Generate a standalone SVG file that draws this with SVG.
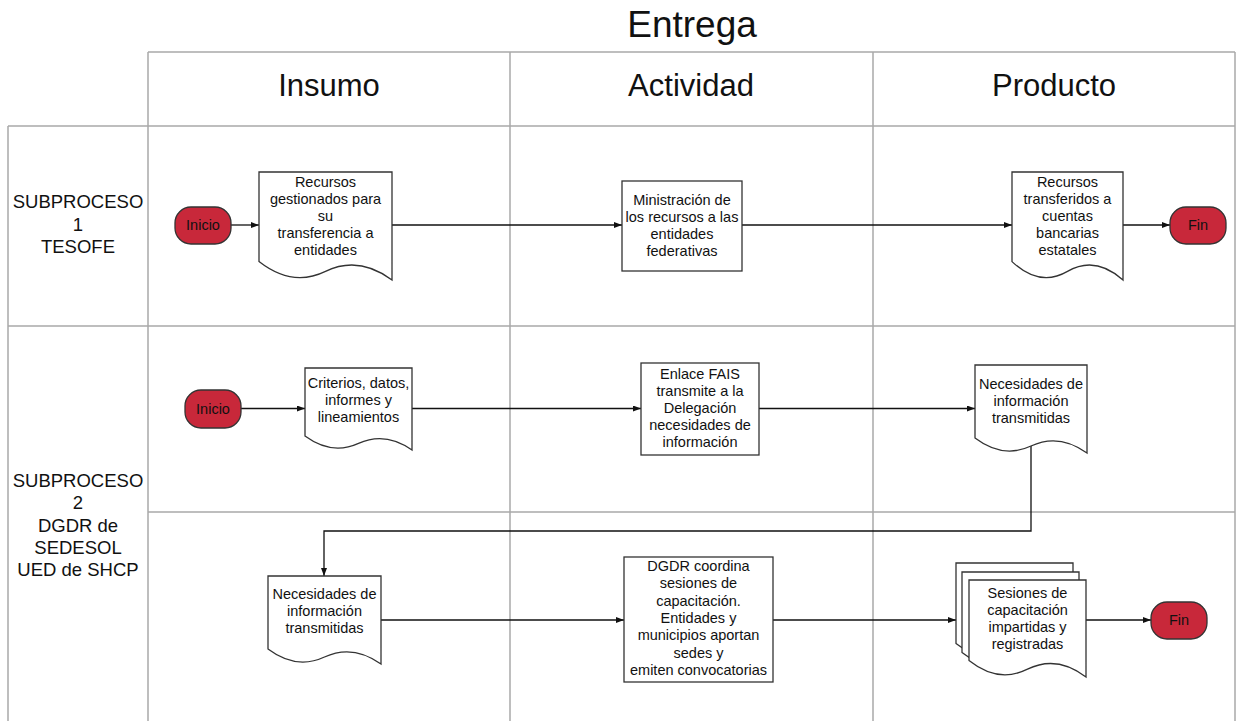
<svg xmlns="http://www.w3.org/2000/svg" width="1236" height="721" viewBox="0 0 1236 721">
<style>
.grid{stroke:#a8a8a8;stroke-width:1.5;fill:none}
.t{font-family:"Liberation Sans",Arial,sans-serif;fill:#111;text-anchor:middle}
.title{font-size:37px}
.hdr{font-size:31px}
.lane{font-size:18.5px}
.n{font-size:14.5px}
.box{fill:#fff;stroke:#333;stroke-width:1.3}
.term{fill:#c8283a;stroke:#333;stroke-width:1.3}
.c{fill:none;stroke:#111;stroke-width:1.3;marker-end:url(#ah)}
</style>
<defs>
<marker id="ah" markerUnits="userSpaceOnUse" markerWidth="9" markerHeight="7" refX="8" refY="3" orient="auto">
<path d="M0,0 L8,3 L0,6 z" fill="#111"/>
</marker>
</defs>
<rect width="1236" height="721" fill="#fff"/>
<g id="grid">
<line class="grid" x1="148" y1="52" x2="1235" y2="52"/>
<line class="grid" x1="8" y1="126" x2="1235" y2="126"/>
<line class="grid" x1="8" y1="326" x2="1235" y2="326"/>
<line class="grid" x1="148" y1="512" x2="1235" y2="512"/>
<line class="grid" x1="8" y1="126" x2="8" y2="721"/>
<line class="grid" x1="148" y1="52" x2="148" y2="721"/>
<line class="grid" x1="510" y1="52" x2="510" y2="721"/>
<line class="grid" x1="873" y1="52" x2="873" y2="721"/>
<line class="grid" x1="1235" y1="52" x2="1235" y2="721"/>
</g>
<g id="headers">
<text class="t title" x="692" y="37">Entrega</text>
<text class="t hdr" x="329" y="96">Insumo</text>
<text class="t hdr" x="691" y="96">Actividad</text>
<text class="t hdr" x="1054" y="96">Producto</text>
<text class="t lane" x="78" y="208">SUBPROCESO</text>
<text class="t lane" x="78" y="230.5">1</text>
<text class="t lane" x="78" y="253">TESOFE</text>
<text class="t lane" x="78" y="487">SUBPROCESO</text>
<text class="t lane" x="78" y="509">2</text>
<text class="t lane" x="78" y="531.5">DGDR de</text>
<text class="t lane" x="78" y="554">SEDESOL</text>
<text class="t lane" x="78" y="576">UED de SHCP</text>
</g>
<g id="connectors">
<line class="c" x1="231" y1="225" x2="259" y2="225"/>
<line class="c" x1="392" y1="225" x2="622" y2="225"/>
<line class="c" x1="742" y1="225" x2="1012" y2="225"/>
<line class="c" x1="1123" y1="225" x2="1170" y2="225"/>
<line class="c" x1="241" y1="408.5" x2="305" y2="408.5"/>
<line class="c" x1="412" y1="408.5" x2="641" y2="408.5"/>
<line class="c" x1="759" y1="408.5" x2="975" y2="408.5"/>
<polyline class="c" points="1031,446 1031,531 324,531 324,576"/>
<line class="c" x1="381" y1="620" x2="624" y2="620"/>
<line class="c" x1="773" y1="620" x2="956" y2="620"/>
<line class="c" x1="1086" y1="620" x2="1151" y2="620"/>
</g>
<g id="inicio1">
<rect class="term" x="175" y="207" width="56" height="37" rx="16" ry="16"/>
<text class="t n" x="203" y="230">Inicio</text>
</g>
<g id="doc-recursos-gestionados">
<path class="box" d="M259,172 H392 V280 Q358.75,255.2 325.5,271.4 Q292.25,287.6 259,261.6 Z"/>
<text class="t n" x="325.5" y="187">Recursos</text>
<text class="t n" x="325.5" y="204">gestionados para</text>
<text class="t n" x="325.5" y="221">su</text>
<text class="t n" x="325.5" y="238">transferencia a</text>
<text class="t n" x="325.5" y="255">entidades</text>
</g>
<g id="act-ministracion">
<rect class="box" x="622" y="181" width="120" height="90"/>
<text class="t n" x="682" y="205">Ministración de</text>
<text class="t n" x="682" y="222">los recursos a las</text>
<text class="t n" x="682" y="239">entidades</text>
<text class="t n" x="682" y="256">federativas</text>
</g>
<g id="doc-recursos-transferidos">
<path class="box" d="M1012,172 H1123 V280 Q1095.25,255.2 1067.5,271.4 Q1039.75,287.6 1012,261.6 Z"/>
<text class="t n" x="1067.5" y="187">Recursos</text>
<text class="t n" x="1067.5" y="204">transferidos a</text>
<text class="t n" x="1067.5" y="221">cuentas</text>
<text class="t n" x="1067.5" y="238">bancarias</text>
<text class="t n" x="1067.5" y="255">estatales</text>
</g>
<g id="fin1">
<rect class="term" x="1170" y="207" width="56" height="37" rx="16" ry="16"/>
<text class="t n" x="1198" y="230">Fin</text>
</g>
<g id="inicio2">
<rect class="term" x="185" y="390" width="56" height="38" rx="16" ry="16"/>
<text class="t n" x="213" y="414">Inicio</text>
</g>
<g id="doc-criterios">
<path class="box" d="M305,368 H412 V450 Q385.25,431.1 358.5,443.4 Q331.75,455.7 305,436.1 Z"/>
<text class="t n" x="358.5" y="388">Criterios, datos,</text>
<text class="t n" x="358.5" y="405">informes y</text>
<text class="t n" x="358.5" y="422">lineamientos</text>
</g>
<g id="act-enlace">
<rect class="box" x="641" y="363" width="118" height="92"/>
<text class="t n" x="700" y="379">Enlace FAIS</text>
<text class="t n" x="700" y="396">transmite a la</text>
<text class="t n" x="700" y="413">Delegación</text>
<text class="t n" x="700" y="430">necesidades de</text>
<text class="t n" x="700" y="447">información</text>
</g>
<g id="doc-necesidades1">
<path class="box" d="M975,365 H1087 V453 Q1059,432.8 1031,446 Q1003,459.2 975,438 Z"/>
<text class="t n" x="1031" y="389">Necesidades de</text>
<text class="t n" x="1031" y="406">información</text>
<text class="t n" x="1031" y="423">transmitidas</text>
</g>
<g id="doc-necesidades2">
<path class="box" d="M268,576 H381 V664 Q352.75,643.8 324.5,657 Q296.25,670.2 268,649 Z"/>
<text class="t n" x="324.5" y="599">Necesidades de</text>
<text class="t n" x="324.5" y="616">información</text>
<text class="t n" x="324.5" y="633">transmitidas</text>
</g>
<g id="act-dgdr">
<rect class="box" x="624" y="557" width="149" height="125"/>
<text class="t n" x="698.5" y="571">DGDR coordina</text>
<text class="t n" x="698.5" y="588.3">sesiones de</text>
<text class="t n" x="698.5" y="605.6">capacitación.</text>
<text class="t n" x="698.5" y="623">Entidades y</text>
<text class="t n" x="698.5" y="640.3">municipios aportan</text>
<text class="t n" x="698.5" y="657.6">sedes y</text>
<text class="t n" x="698.5" y="675">emiten convocatorias</text>
</g>
<g id="multidoc-sesiones">
<path class="box" d="M956,563 H1073 V660 Q1043.75,637.7 1014.5,652.2 Q985.25,666.8 956,643.5 Z"/>
<path class="box" d="M962,572 H1079 V669 Q1049.75,646.7 1020.5,661.2 Q991.25,675.8 962,652.5 Z"/>
<path class="box" d="M969,580 H1086 V677 Q1056.75,654.7 1027.5,669.2 Q998.25,683.8 969,660.5 Z"/>
<text class="t n" x="1027.5" y="598">Sesiones de</text>
<text class="t n" x="1027.5" y="615">capacitación</text>
<text class="t n" x="1027.5" y="632">impartidas y</text>
<text class="t n" x="1027.5" y="649">registradas</text>
</g>
<g id="fin2">
<rect class="term" x="1151" y="602" width="56" height="37" rx="16" ry="16"/>
<text class="t n" x="1179" y="625">Fin</text>
</g>
</svg>
